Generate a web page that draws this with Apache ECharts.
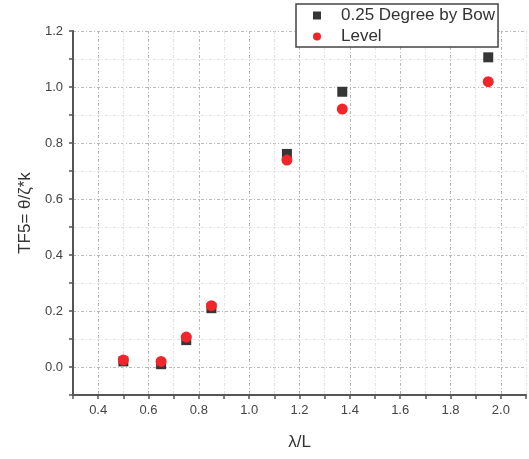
<!DOCTYPE html>
<html>
<head>
<meta charset="utf-8">
<script src="https://cdn.jsdelivr.net/npm/echarts@6/dist/echarts.min.js"></script>
<style>
  html, body { margin: 0; padding: 0; background: #fff; }
  #chart { width: 529px; height: 459px; }
</style>
</head>
<body>
<div id="chart"></div>
<script>
// Wavelength ratio λ/L for each test point
const waveRatio = [0.5, 0.65, 0.75, 0.85, 1.15, 1.37, 1.95];
// TF5 response, 0.25 degree trim by bow
const bowTrim = [0.02, 0.01, 0.096, 0.21, 0.761, 0.983, 1.106];
// TF5 response, level trim
const levelTrim = [0.025, 0.02, 0.107, 0.219, 0.739, 0.921, 1.019];
// Series names shown in the legend
const seriesNames = ['0.25 Degree by Bow', 'Level'];

const pairs = (xs, ys) => xs.map((x, i) => [x, ys[i]]);

// Major ticks every 0.2 are labelled, minor ticks in between are not
const majorLabel = v => {
  const k = Math.round(v * 10);
  return (k % 2 === 0 && v > -0.05) ? v.toFixed(1) : '';
};

const FONT = 'Liberation Sans, Arial, sans-serif';
const labelStyle = { color: '#444', fontFamily: FONT, fontSize: 13 };
const nameStyle = { color: '#333', fontFamily: FONT, fontSize: 17 };
const gridLines = {
  show: true,
  lineStyle: { color: ['#e2e2e2', '#b8b8b8'], type: [3, 2, 1, 2], width: 1 }
};

const chart = echarts.init(document.getElementById('chart'), null, { renderer: 'canvas' });
chart.setOption({
  backgroundColor: '#fff',
  animation: false,
  grid: { left: 73, right: 1, top: 31, bottom: 64 },
  legend: {
    left: 296,
    top: 4,
    orient: 'vertical',
    data: seriesNames,
    backgroundColor: '#fff',
    borderColor: '#444',
    borderWidth: 1.5,
    borderRadius: 0,
    padding: [3, 3, 2, 17],
    itemGap: 4,
    itemWidth: 8,
    itemHeight: 8,
    textStyle: {
      color: '#333',
      fontFamily: FONT,
      fontSize: 17,
      padding: [0, 0, 0, 15]
    }
  },
  xAxis: {
    type: 'value',
    min: 0.3,
    max: 2.1,
    interval: 0.1,
    name: 'λ/L',
    nameLocation: 'middle',
    nameGap: 39,
    nameTextStyle: nameStyle,
    axisLine: { show: true, onZero: false, lineStyle: { color: '#555', width: 2 } },
    axisTick: { show: true, inside: false, length: 4, lineStyle: { color: '#555', width: 1.5 } },
    axisLabel: Object.assign({ margin: 9, formatter: majorLabel }, labelStyle),
    splitLine: gridLines
  },
  yAxis: {
    type: 'value',
    min: -0.1,
    max: 1.2,
    interval: 0.1,
    name: 'TF5= θ/ζ*k',
    nameLocation: 'middle',
    nameGap: 36,
    nameRotate: 90,
    nameTextStyle: nameStyle,
    axisLine: { show: true, onZero: false, lineStyle: { color: '#555', width: 2 } },
    axisTick: { show: true, inside: false, length: 4, lineStyle: { color: '#555', width: 1.5 } },
    axisLabel: Object.assign({ margin: 10, formatter: majorLabel }, labelStyle),
    splitLine: gridLines
  },
  series: [
    {
      name: seriesNames[0],
      type: 'scatter',
      symbol: 'rect',
      symbolSize: 10,
      itemStyle: { color: '#363636', opacity: 1 },
      data: pairs(waveRatio, bowTrim)
    },
    {
      name: seriesNames[1],
      type: 'scatter',
      symbol: 'circle',
      symbolSize: 11,
      itemStyle: { color: '#f0262a', opacity: 1 },
      data: pairs(waveRatio, levelTrim)
    }
  ]
});
</script>
</body>
</html>
